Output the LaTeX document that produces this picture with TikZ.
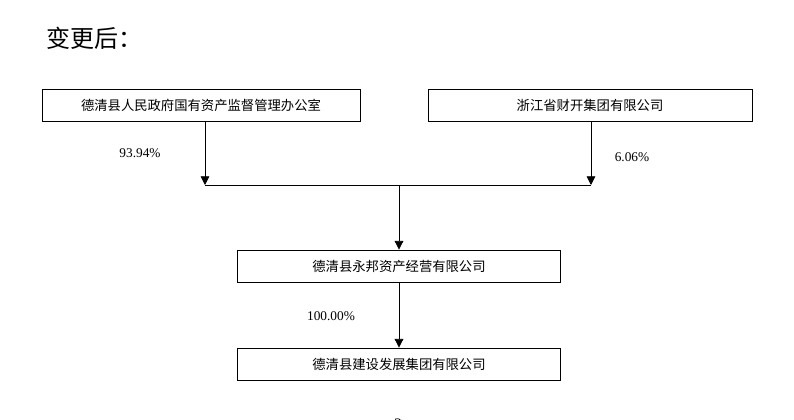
\documentclass[tikz,border=0pt]{standalone}
\usepackage{fontspec}
\setmainfont{Liberation Serif}
\newfontfamily\cjk{Noto Sans CJK SC}
\usetikzlibrary{positioning,arrows.meta}

\begin{document}
\begin{tikzpicture}[
  x=0.75pt, y=-0.75pt,
  >={Triangle[length=6.5pt,width=6.5pt]},
  entity/.style={draw, line width=0.6pt, rectangle, minimum height=24pt, font=\cjk\fontsize{10}{12}\selectfont, inner sep=0pt},
  share/.style={->, line width=0.6pt},
  ratio/.style={font=\fontsize{10}{12}\selectfont}
]
\useasboundingbox (0,0) rectangle (794,420);

% Title
\node[anchor=west, font=\cjk\fontsize{18}{20}\selectfont] (title) at (42,38) {变更后：};

% Shareholders
\node[entity, minimum width=238.5pt] (govt) at (201,105) {德清县人民政府国有资产监督管理办公室};
\node[entity, minimum width=243pt] (caizheng) at (590,105) {浙江省财开集团有限公司};

% Companies
\node[entity, minimum width=242pt] (yongbang) at (399,266) {德清县永邦资产经营有限公司};
\node[entity, minimum width=242pt] (jianshe) at (399,364) {德清县建设发展集团有限公司};

% Joint line
\coordinate (jl) at (205,185);
\coordinate (jr) at (591,185);
\coordinate (jm) at (399,185);
\draw[share] (govt.south -| jl) -- (jl);
\draw[share] (caizheng.south -| jr) -- (jr);
\draw[line width=0.6pt] (jl) -- (jr);
\draw[share] (jm) -- (yongbang.north);
\draw[share] (yongbang.south) -- (jianshe.north);

% Ratios
\node[ratio] (r1) at (140,153) {93.94\%};
\node[ratio] (r2) at (632,157) {6.06\%};
\node[ratio] (r3) at (331,316) {100.00\%};

% Page number
\node[font=\fontsize{12}{14}\selectfont] (page) at (398,424) {2};
\end{tikzpicture}
\end{document}
